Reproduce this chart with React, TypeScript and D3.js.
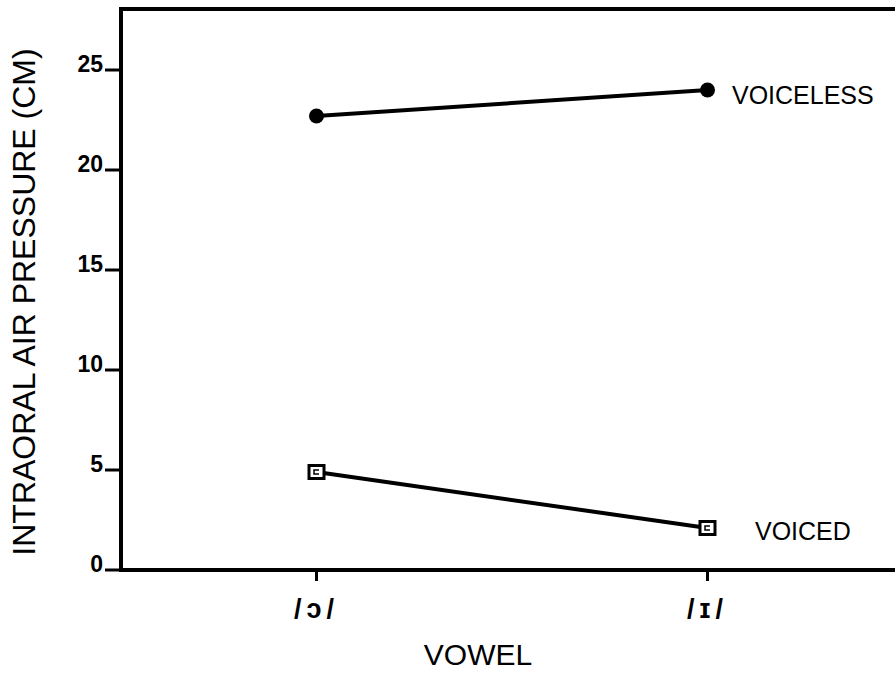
import React from "react";
import * as d3 from "d3";

const vowels = ["/ɔ/", "/ɪ/"];
const voiceless = [22.7, 24.0];
const voiced = [4.9, 2.1];
const yTicks = [0, 5, 10, 15, 20, 25];
const seriesLabels = ["VOICELESS", "VOICED"];

const W = 895, H = 675;
const left = 121, top = 9, bottom = 570, right = 903;

export default function App() {
  const x = d3.scalePoint<string>().domain(vowels).range([left, right]).padding(0.5);
  const y = d3.scaleLinear().domain([0, 28]).range([bottom, bottom - 28 * 20]);
  const line = d3.line<number>().x((_, i) => x(vowels[i])!).y((d) => y(d));
  const font = "'Liberation Sans', Arial, Helvetica, sans-serif";
  return (
    <svg width={W} height={H} style={{ position: "absolute", left: 0, top: 0, background: "#fff" }} fontFamily={font}>
      <rect width={W} height={H} fill="#fff" />
      <path d={`M${left},${bottom}V${top}H${W}`} fill="none" stroke="#000" strokeWidth={4} />
      <line x1={left - 2} x2={W} y1={bottom} y2={bottom} stroke="#000" strokeWidth={4} />
      {yTicks.map((t) => (
        <g key={t}>
          <line x1={left - 16} x2={left} y1={y(t)} y2={y(t)} stroke="#000" strokeWidth={3} />
          <text x={left - 18} y={y(t)} dy="0.1em" textAnchor="end" fontSize={23} fontWeight="bold">{t}</text>
        </g>
      ))}
      {vowels.map((v) => (
        <g key={v}>
          <line x1={x(v)} x2={x(v)} y1={bottom} y2={bottom + 11} stroke="#000" strokeWidth={3} />
          <text x={x(v)} y={618} textAnchor="middle" fontSize={27} fontWeight="bold" letterSpacing={5}>{v}</text>
        </g>
      ))}
      <text x={478} y={665} textAnchor="middle" fontSize={30}>VOWEL</text>
      <text transform={`translate(35,302) rotate(-90)`} textAnchor="middle" fontSize={32}>INTRAORAL AIR PRESSURE (CM)</text>
      <path d={line(voiceless)!} fill="none" stroke="#000" strokeWidth={4} />
      <path d={line(voiced)!} fill="none" stroke="#000" strokeWidth={4} />
      {voiceless.map((d, i) => (
        <circle key={i} cx={x(vowels[i])} cy={y(d)} r={7.5} fill="#000" />
      ))}
      {voiced.map((d, i) => (
        <g key={i}>
          <rect x={x(vowels[i])! - 7.5} y={y(d) - 6.5} width={15} height={13} fill="#fff" stroke="#000" strokeWidth={3} />
          <path d={`M${x(vowels[i])! + 2.5},${y(d) - 2}H${x(vowels[i])! - 2.5}V${y(d) + 2}H${x(vowels[i])! + 2.5}`} fill="none" stroke="#000" strokeWidth={1.5} />
        </g>
      ))}
      <text x={732} y={104} fontSize={25}>{seriesLabels[0]}</text>
      <text x={755} y={540} fontSize={25}>{seriesLabels[1]}</text>
    </svg>
  );
}
